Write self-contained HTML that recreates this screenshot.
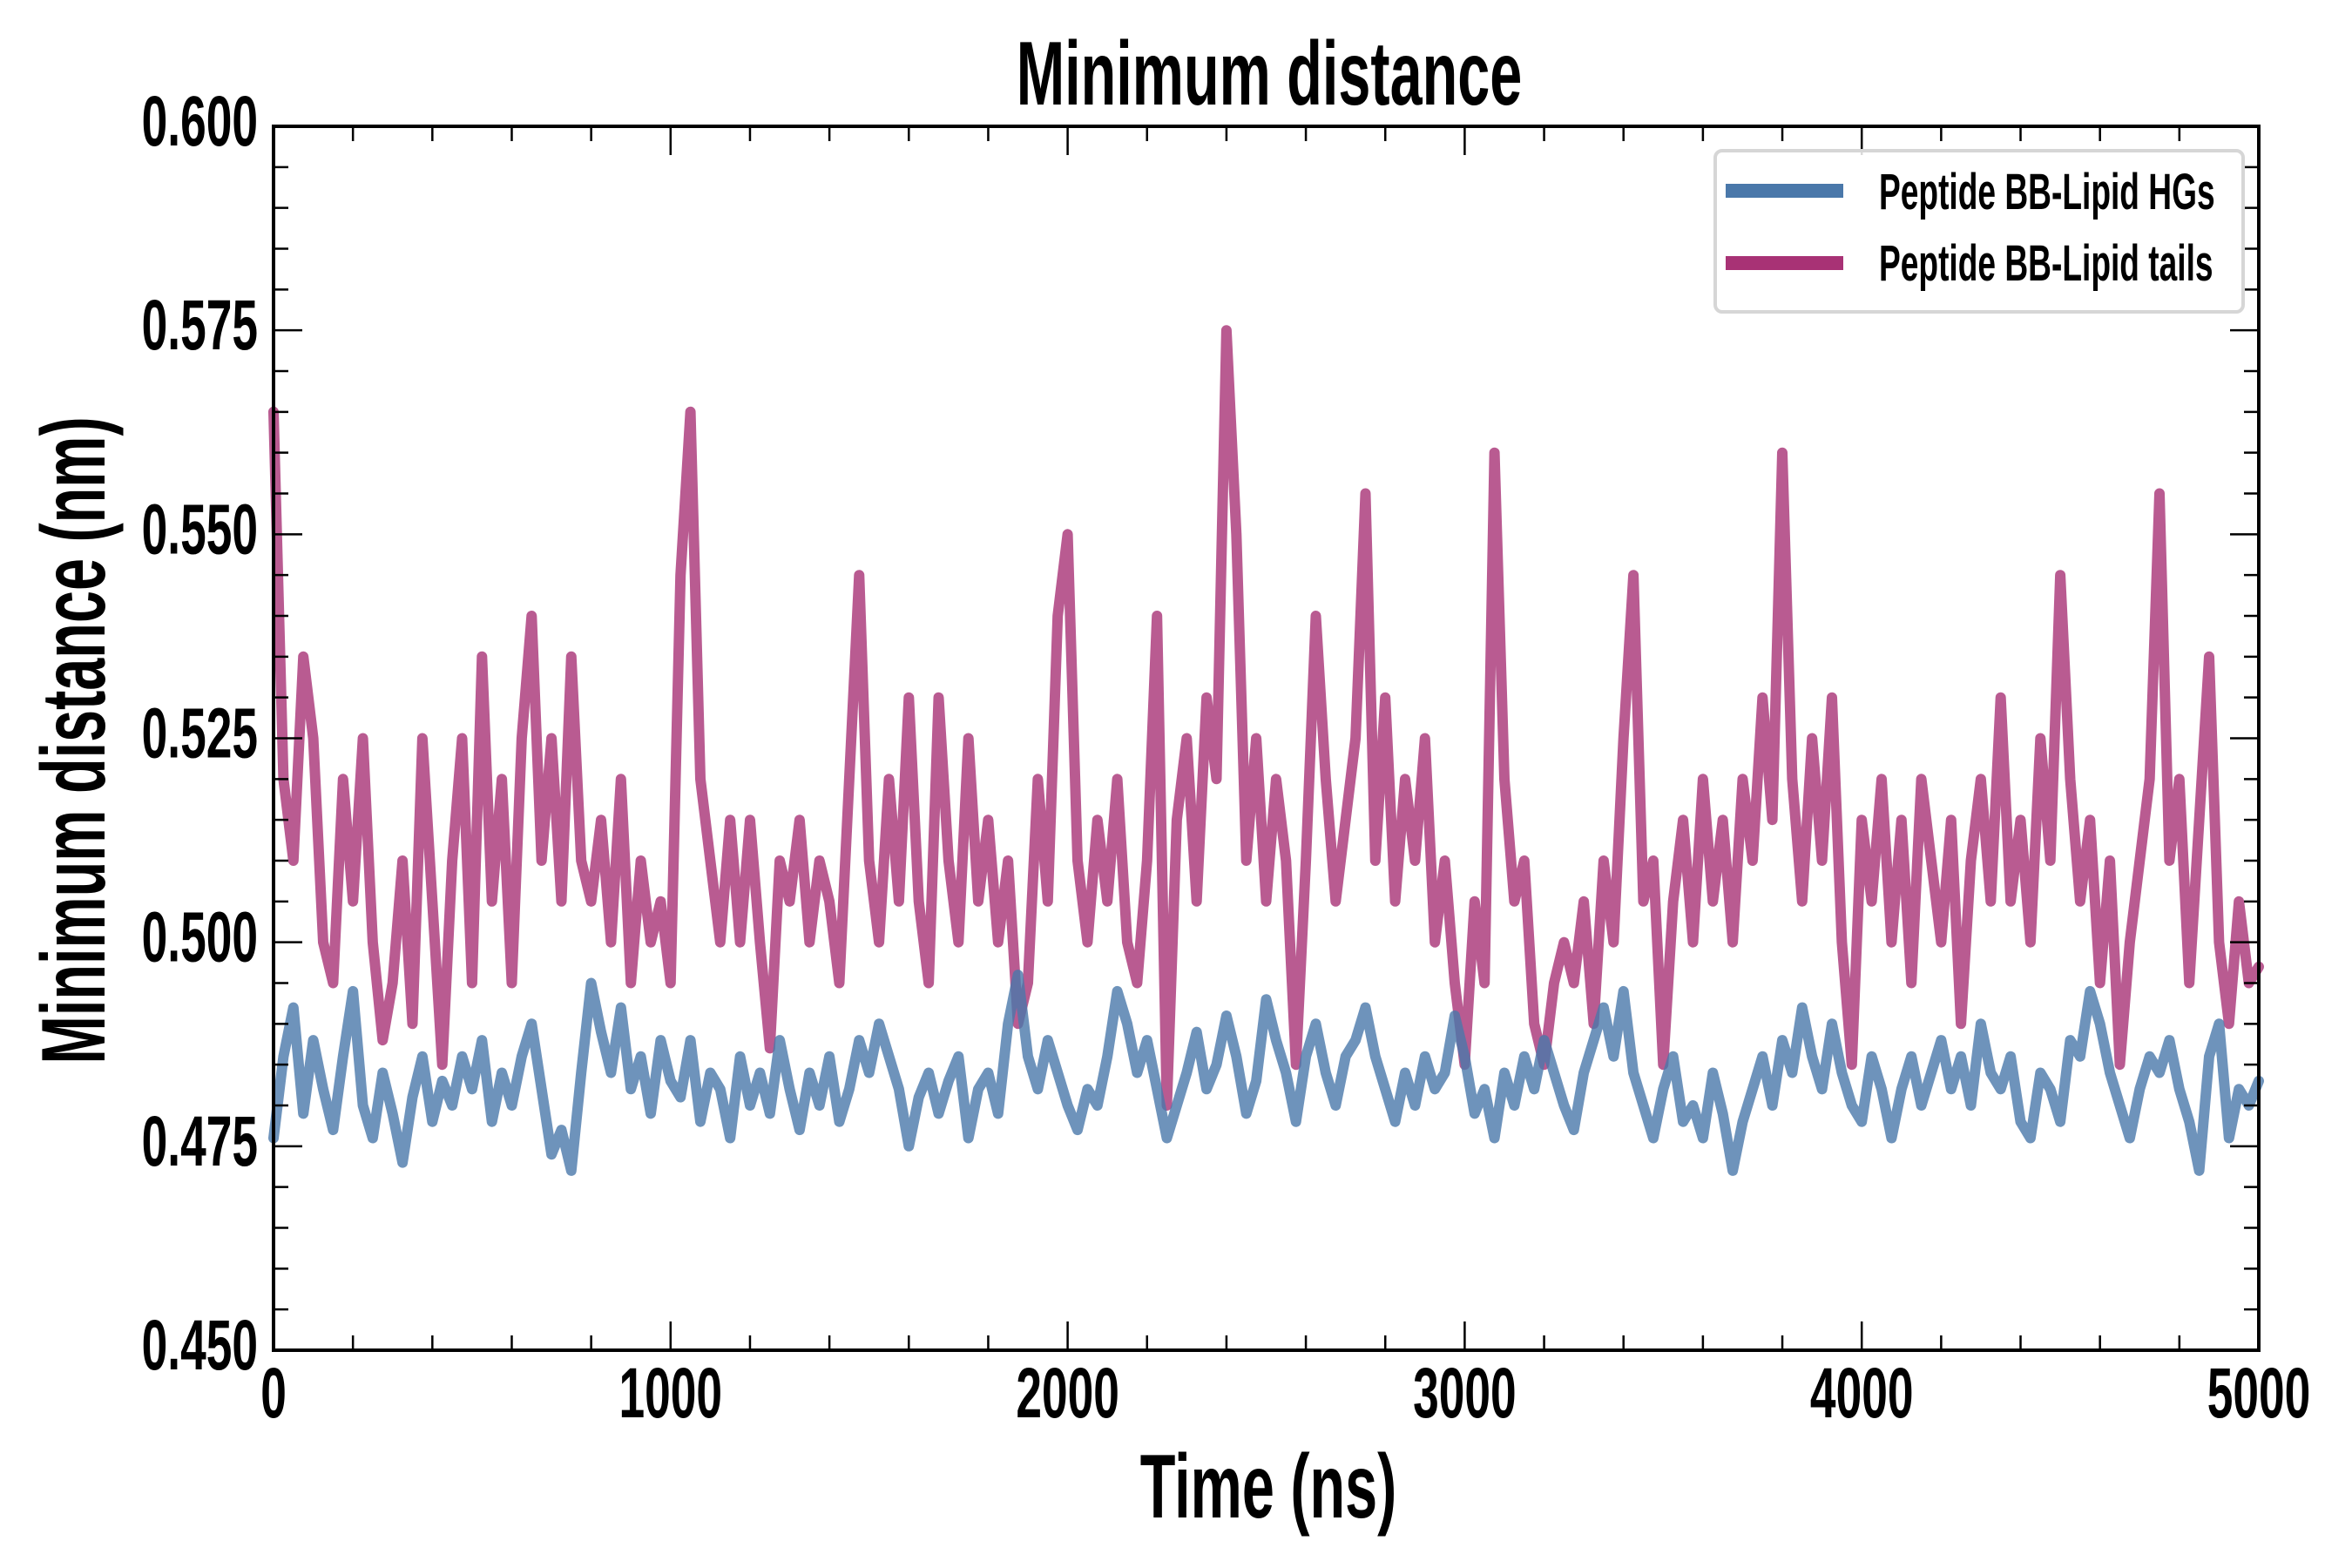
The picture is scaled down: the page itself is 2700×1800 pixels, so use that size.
<!DOCTYPE html>
<html><head><meta charset="utf-8"><style>
html,body{margin:0;padding:0;background:#fff}
svg{display:block}
text{font-family:"Liberation Sans",sans-serif;font-weight:bold;fill:#000}
</style></head><body>
<svg id="chart" width="2700" height="1800" viewBox="0 0 2700 1800" xmlns="http://www.w3.org/2000/svg">
<rect width="2700" height="1800" fill="#fff"/>
<text transform="translate(1457,120) scale(0.64,1)" font-size="104" text-anchor="middle">Minimum distance</text>
<text transform="translate(1456,1742) scale(0.64,1)" font-size="104" text-anchor="middle">Time (ns)</text>
<text transform="translate(120,850) rotate(-90) scale(0.64,1)" font-size="104" text-anchor="middle">Minimum distance (nm)</text>
<g id="series"></g>
<g id="ticks"></g>
<rect x="314" y="145" width="2279" height="1405" fill="none" stroke="#000" stroke-width="4"/>
<g>
<rect x="1969" y="173" width="606" height="185" rx="8" fill="#fff" fill-opacity="0.85" stroke="#d6d6d6" stroke-width="4"/>
<line x1="1981" y1="219" x2="2116" y2="219" stroke="#4a78aa" stroke-width="16"/>
<text transform="translate(2157,240) scale(0.64,1)" font-size="58">Peptide BB-Lipid HGs</text>
<line x1="1981" y1="302" x2="2116" y2="302" stroke="#a83275" stroke-width="16"/>
<text transform="translate(2157,322) scale(0.64,1)" font-size="58">Peptide BB-Lipid tails</text>
</g>
</svg>
<script>
const tMax = 5000;
const tails = [0.565,0.52,0.51,0.535,0.525,0.50,0.495,0.52,0.505,0.525,0.50,0.488,0.495,0.51,0.49,0.525,0.505,0.485,0.51,0.525,0.495,0.535,0.505,0.52,0.495,0.525,0.54,0.51,0.525,0.505,0.535,0.51,0.505,0.515,0.50,0.52,0.495,0.51,0.50,0.505,0.495,0.545,0.565,0.52,0.51,0.50,0.515,0.50,0.515,0.50,0.487,0.51,0.505,0.515,0.50,0.51,0.505,0.495,0.52,0.545,0.51,0.50,0.52,0.505,0.53,0.505,0.495,0.53,0.51,0.50,0.525,0.505,0.515,0.50,0.51,0.49,0.495,0.52,0.505,0.54,0.55,0.51,0.50,0.515,0.505,0.52,0.50,0.495,0.51,0.54,0.48,0.515,0.525,0.505,0.53,0.52,0.575,0.55,0.51,0.525,0.505,0.52,0.51,0.485,0.51,0.54,0.52,0.505,0.515,0.525,0.555,0.51,0.53,0.505,0.52,0.51,0.525,0.50,0.51,0.495,0.485,0.505,0.495,0.56,0.52,0.505,0.51,0.49,0.485,0.495,0.50,0.495,0.505,0.49,0.51,0.50,0.525,0.545,0.505,0.51,0.485,0.505,0.515,0.50,0.52,0.505,0.515,0.50,0.52,0.51,0.53,0.515,0.56,0.52,0.505,0.525,0.51,0.53,0.50,0.485,0.515,0.505,0.52,0.50,0.515,0.495,0.52,0.51,0.50,0.515,0.49,0.51,0.52,0.505,0.53,0.505,0.515,0.50,0.525,0.51,0.545,0.52,0.505,0.515,0.495,0.51,0.485,0.50,0.51,0.52,0.555,0.51,0.52,0.495,0.515,0.535,0.50,0.49,0.505,0.495,0.497];
const hgs = [0.476,0.486,0.492,0.479,0.488,0.482,0.477,0.486,0.494,0.480,0.476,0.484,0.479,0.473,0.481,0.486,0.478,0.483,0.480,0.486,0.482,0.488,0.478,0.484,0.480,0.486,0.490,0.482,0.474,0.477,0.472,0.484,0.495,0.489,0.484,0.492,0.482,0.486,0.479,0.488,0.483,0.481,0.488,0.478,0.484,0.482,0.476,0.486,0.480,0.484,0.479,0.488,0.482,0.477,0.484,0.480,0.486,0.478,0.482,0.488,0.484,0.490,0.486,0.482,0.475,0.481,0.484,0.479,0.483,0.486,0.476,0.482,0.484,0.479,0.490,0.496,0.486,0.482,0.488,0.484,0.480,0.477,0.482,0.480,0.486,0.494,0.490,0.484,0.488,0.482,0.476,0.480,0.484,0.489,0.482,0.485,0.491,0.486,0.479,0.483,0.493,0.488,0.484,0.478,0.486,0.490,0.484,0.480,0.486,0.488,0.492,0.486,0.482,0.478,0.484,0.480,0.486,0.482,0.484,0.491,0.486,0.479,0.482,0.476,0.484,0.480,0.486,0.482,0.488,0.484,0.480,0.477,0.484,0.488,0.492,0.486,0.494,0.484,0.480,0.476,0.482,0.486,0.478,0.480,0.476,0.484,0.479,0.472,0.478,0.482,0.486,0.480,0.488,0.484,0.492,0.486,0.482,0.490,0.484,0.480,0.478,0.486,0.482,0.476,0.482,0.486,0.480,0.484,0.488,0.482,0.486,0.480,0.490,0.484,0.482,0.486,0.478,0.476,0.484,0.482,0.478,0.488,0.486,0.494,0.490,0.484,0.480,0.476,0.482,0.486,0.484,0.488,0.482,0.478,0.472,0.486,0.490,0.476,0.482,0.480,0.483];
const xTicks = [0,1000,2000,3000,4000,5000];
const yTicks = [0.450,0.475,0.500,0.525,0.550,0.575,0.600];
const X0=314,X1=2593,Y0=1550,Y1=145;
const xScale = v => X0 + (v-0)/(5000-0)*(X1-X0);
const yScale = v => Y0 - (v-0.45)/(0.6-0.45)*(Y0-Y1);
const NS="http://www.w3.org/2000/svg";
const tg=document.getElementById('ticks'), sg=document.getElementById('series');
function ln(x1,y1,x2,y2,w){const l=document.createElementNS(NS,'line');l.setAttribute('x1',x1);l.setAttribute('y1',y1);l.setAttribute('x2',x2);l.setAttribute('y2',y2);l.setAttribute('stroke','#000');l.setAttribute('stroke-width',w);return l;}
for(let v=0;v<=5000;v+=200){const x=xScale(v);const major=v%1000===0;const L=major?33:17;
 const a=ln(x,Y0,x,Y0-L,2.5);
 
 
 tg.appendChild(a);
 const b=ln(x,Y1,x,Y1+L,2.5);
 
 
 tg.appendChild(b);}
for(let i=0;i<=30;i++){const v=0.45+i*0.005;const y=yScale(v);const major=i%5===0;const L=major?33:17;
 const a=ln(X0,y,X0+L,y,2.5);
 
 
 tg.appendChild(a);
 const b=ln(X1,y,X1-L,y,2.5);
 
 
 tg.appendChild(b);}
xTicks.forEach(v=>{const t=document.createElementNS(NS,'text');t.setAttribute('transform','translate('+xScale(v)+',1627) scale(0.65,1)');t.setAttribute('font-size','82');t.setAttribute('text-anchor','middle');t.textContent=String(v);
 
 
 tg.appendChild(t);});
yTicks.forEach(v=>{const t=document.createElementNS(NS,'text');t.setAttribute('transform','translate(296,'+(yScale(v)+22)+') scale(0.65,1)');t.setAttribute('font-size','82');t.setAttribute('text-anchor','end');t.textContent=v.toFixed(3);
 
 
 tg.appendChild(t);});
function series(arr,color,name){const dt=tMax/(arr.length-1);const p=document.createElementNS(NS,'path');
 p.setAttribute('d',arr.map((v,i)=>(i?'L':'M')+xScale(i*dt).toFixed(1)+' '+yScale(v).toFixed(1)).join(' '));
 p.setAttribute('fill','none');p.setAttribute('stroke',color);p.setAttribute('stroke-width','12');p.setAttribute('stroke-linejoin','round');p.setAttribute('stroke-linecap','round');p.setAttribute('stroke-opacity','0.8');
 
 
 sg.appendChild(p);}
series(tails,'#a83275','series-lipid-tails');
series(hgs,'#4a78aa','series-lipid-hgs');
</script>
</body></html>
